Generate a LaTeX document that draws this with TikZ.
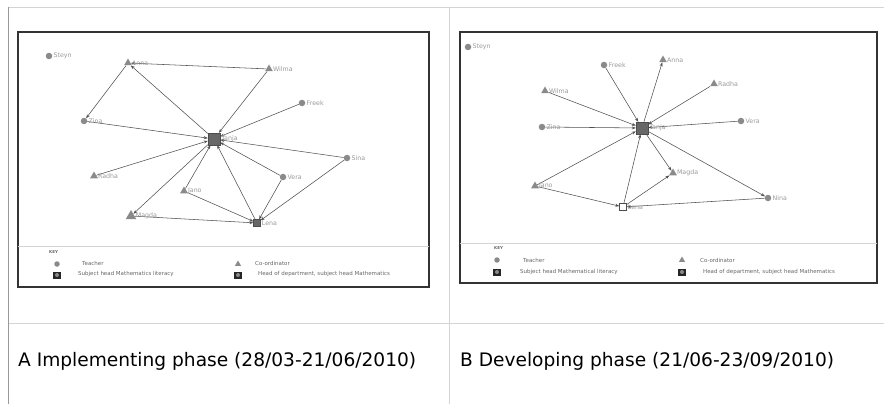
\documentclass[tikz,border=0pt]{standalone}
\usepackage{fontspec}
\setmainfont{DejaVu Sans}
\usetikzlibrary{arrows.meta,shapes.geometric,backgrounds}
\definecolor{actorgray}{HTML}{8A8A8A}
\definecolor{labelgray}{HTML}{9A9A9A}
\definecolor{tiegray}{HTML}{505050}
\definecolor{rulegray}{HTML}{D4D4D4}
\newcommand{\labsize}{\fontsize{6.3}{7}\selectfont}
\newcommand{\keysize}{\fontsize{5.5}{6}\selectfont}
\tikzset{
  teacher/.style={circle,fill=actorgray,inner sep=0pt,minimum size=6.5pt,label distance=1.5pt},
  coord/.style={regular polygon,regular polygon sides=3,fill=actorgray,inner sep=0pt,minimum size=9pt,label distance=0.5pt},
  headsq/.style={rectangle,fill=actorgray!75!black,draw=black!70,inner sep=0pt,minimum size=7pt,label distance=1.5pt},
  hodsq/.style={headsq,minimum size=12pt},
  tie/.style={draw=tiegray,line width=0.55pt,-{Stealth[length=4pt,width=3pt]}},
  lab/.style={text=labelgray,font=\labsize,inner sep=1pt},
  keytext/.style={text=black!60,font=\keysize,anchor=west,inner sep=0pt},
  keyicon/.style={rectangle,fill=black!85,inner sep=0pt,minimum width=8pt,minimum height=7pt,
    path picture={\fill[actorgray] (path picture bounding box.center) circle (2pt);}},
  panel/.style={draw=black!80,line width=1.2pt},
  cell/.style={draw=rulegray,line width=0.8pt},
  caption/.style={font=\fontsize{18.6}{22}\selectfont,anchor=base west,inner sep=0pt},
}

\begin{document}
\begin{tikzpicture}[x=1pt,y=-1pt]
\useasboundingbox (0,0) rectangle (884,404);
%table
\draw[cell] (8,7) -- (884,7);
\draw[cell] (8,323) -- (884,323);
\draw[cell] (449,7) -- (449,404);
\draw[cell,draw=black!40] (8,7) -- (8,404);
%A
\draw[panel] (18,32) rectangle (429,287);
\draw[cell] (18,246) -- (429,246);
\node[teacher] (aSteyn) at (49,56) [label={[lab]right:Steyn}] {};
\node[coord] (aAnna) at (128,63) [label={[lab]right:Anna}] {};
\node[coord] (aWilma) at (269,69) [label={[lab]right:Wilma}] {};
\node[teacher] (aFreek) at (302,103) [label={[lab]right:Freek}] {};
\node[teacher] (aZina) at (84,121) [label={[lab]right:Zina}] {};
\node[hodsq] (aTanja) at (214,139) [label={[lab]right:Tanja}] {};
\node[teacher] (aSina) at (347,158) [label={[lab]right:Sina}] {};
\node[coord] (aRadha) at (94,176) [label={[lab]right:Radha}] {};
\node[teacher] (aVera) at (283,177) [label={[lab]right:Vera}] {};
\node[coord] (aJano) at (184,191) [label={[lab]right:Jano}] {};
\node[coord,minimum size=12pt] (aMagda) at (131,216) [label={[lab]right:Magda}] {};
\node[headsq] (aLena) at (257,223) [label={[lab]right:Lena}] {};
\begin{scope}[on background layer]
\draw[tie] (aAnna) -- (aZina);
\draw[tie] (aWilma) -- (aAnna);
\draw[tie] (aTanja) -- (aAnna);
\draw[tie] (aWilma) -- (aTanja);
\draw[tie] (aFreek) -- (aTanja);
\draw[tie] (aZina) -- (aTanja);
\draw[tie] (aRadha) -- (aTanja);
\draw[tie] (aTanja) -- (aMagda);
\draw[tie] (aJano) -- (aTanja);
\draw[tie] (aJano) -- (aLena);
\draw[tie] (aMagda) -- (aLena);
\draw[tie] (aVera) -- (aTanja);
\draw[tie] (aVera) -- (aLena);
\draw[tie] (aSina) -- (aTanja);
\draw[tie] (aSina) -- (aLena);
\draw[tie] (aLena) -- (aTanja);
\end{scope}
%key A
\node[keytext,font=\fontsize{4}{5}\selectfont\bfseries] (aKey) at (49,252) {KEY};
\node[teacher,minimum size=5.5pt] (aK1) at (57,264) {};
\node[keytext] (aK1t) at (82,263) {Teacher};
\node[keyicon] (aK2) at (57,275) {};
\node[keytext] (aK2t) at (78,274) {Subject head Mathematics literacy};
\node[coord,minimum size=7pt] (aK3) at (238,264) {};
\node[keytext] (aK3t) at (255,263) {Co-ordinator};
\node[keyicon] (aK4) at (238,275) {};
\node[keytext] (aK4t) at (258,274) {Head of department, subject head Mathematics};
%B
\draw[panel] (460,32) rectangle (877,283);
\draw[cell] (460,243) -- (877,243);
\node[teacher] (bSteyn) at (468,47) [label={[lab]right:Steyn}] {};
\node[teacher] (bFreek) at (604,65) [label={[lab]right:Freek}] {};
\node[coord] (bAnna) at (663,60) [label={[lab]right:Anna}] {};
\node[coord] (bRadha) at (714,84) [label={[lab]right:Radha}] {};
\node[coord] (bWilma) at (545,91) [label={[lab]right:Wilma}] {};
\node[teacher] (bZina) at (542,127) [label={[lab]right:Zina}] {};
\node[hodsq] (bTanja) at (642,128) [label={[lab]right:Tanja}] {};
\node[teacher] (bVera) at (741,121) [label={[lab]right:Vera}] {};
\node[coord] (bMagda) at (673,173) [label={[lab]right:Magda}] {};
\node[coord] (bJano) at (535,186) [label={[lab]right:Jano}] {};
\node[headsq,fill=white] (bLena) at (623,207) [label={[lab]right:Lena}] {};
\node[teacher] (bNina) at (768,198) [label={[lab]right:Nina}] {};
\begin{scope}[on background layer]
\draw[tie] (bFreek) -- (bTanja);
\draw[tie] (bTanja) -- (bAnna);
\draw[tie] (bRadha) -- (bTanja);
\draw[tie] (bWilma) -- (bTanja);
\draw[tie] (bZina) -- (bTanja);
\draw[tie] (bVera) -- (bTanja);
\draw[tie] (bJano) -- (bTanja);
\draw[tie] (bJano) -- (bLena);
\draw[tie] (bLena) -- (bTanja);
\draw[tie] (bLena) -- (bMagda);
\draw[tie] (bTanja) -- (bMagda);
\draw[tie] (bTanja) -- (bNina);
\draw[tie] (bNina) -- (bLena);
\end{scope}
%key B
\node[keytext,font=\fontsize{4}{5}\selectfont\bfseries] (bKey) at (494,248) {KEY};
\node[teacher,minimum size=5.5pt] (bK1) at (497,260) {};
\node[keytext] (bK1t) at (523,260) {Teacher};
\node[keyicon] (bK2) at (497,272) {};
\node[keytext] (bK2t) at (520,272) {Subject head Mathematical literacy};
\node[coord,minimum size=7pt] (bK3) at (682,260) {};
\node[keytext] (bK3t) at (700,260) {Co-ordinator};
\node[keyicon] (bK4) at (682,272) {};
\node[keytext] (bK4t) at (703,272) {Head of department, subject head Mathematics};
%captions
\node[caption] (aCap) at (18,366) {A Implementing phase (28/03-21/06/2010)};
\node[caption] (bCap) at (460,366) {B Developing phase (21/06-23/09/2010)};
\end{tikzpicture}
\end{document}
